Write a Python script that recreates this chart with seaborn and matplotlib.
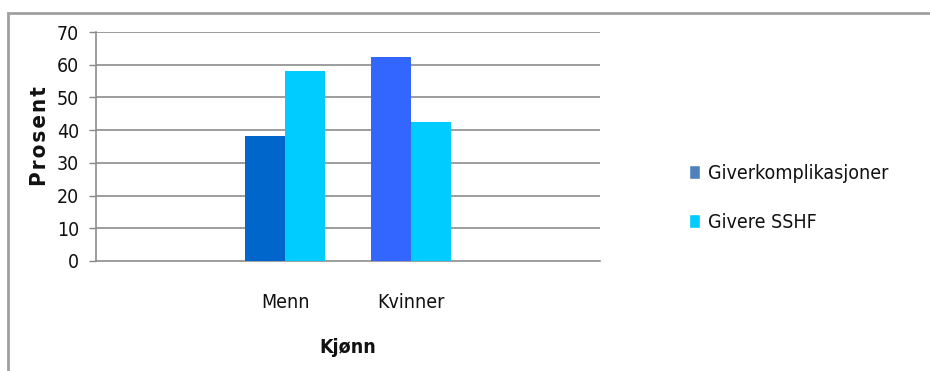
import matplotlib
matplotlib.use("Agg")
import matplotlib.pyplot as plt
from matplotlib.patches import Rectangle, Patch
import seaborn as sns
import pandas as pd

# Data
categories = ["", "Menn", "Kvinner", " "]
series = ["Giverkomplikasjoner", "Givere SSHF"]
giverkomplikasjoner = [38.2, 62.4]
givere_sshf = [58.1, 42.5]
data_categories = ["Menn", "Kvinner"]
yticks = [0, 10, 20, 30, 40, 50, 60, 70]

df = pd.DataFrame({
    "Kjønn": data_categories * 2,
    "Serie": [series[0]] * 2 + [series[1]] * 2,
    "Prosent": giverkomplikasjoner + givere_sshf,
})

sns.set_theme(style="white")
plt.rcParams["font.family"] = ["DejaVu Sans"]
plt.rcParams["font.stretch"] = "condensed"

W, H = 930, 371
fig = plt.figure(figsize=(W / 100, H / 100), dpi=100)
ax = fig.add_axes([96 / W, 1 - 261 / H, (600 - 96) / W, (261 - 32) / H])

bar_colors = {series[0]: "#0066CC", series[1]: "#00CCFF"}
sns.barplot(data=df, x="Kjønn", y="Prosent", hue="Serie", order=categories,
            hue_order=series, palette=bar_colors, width=0.635, saturation=1,
            ax=ax, legend=False, linewidth=0, zorder=3)

# first series uses a different shade per category
first = ax.containers[0]
for patch, c in zip(first.patches, ["#0066CC", "#3366FF"]):
    patch.set_facecolor(c)

ax.set_ylim(0, 70)
ax.set_xlim(-0.5, 3.5)
ax.set_yticks(yticks)
ax.set_yticklabels([str(v) for v in yticks], fontsize=14, color="#111111")
ax.set_xticks(range(len(categories)))
ax.set_xticklabels(categories, fontsize=14, color="#111111")
ax.tick_params(axis="x", length=0, pad=23)
ax.tick_params(axis="y", length=5, width=1, color="#888888", pad=7, left=True)

for v in yticks[1:]:
    ax.axhline(v, color="#8c8c8c", lw=1.2, zorder=1)

for s in ["top", "right"]:
    ax.spines[s].set_visible(False)
for s in ["left", "bottom"]:
    ax.spines[s].set_color("#8c8c8c")
    ax.spines[s].set_linewidth(1.2)

ax.set_xlabel("Kjønn", fontsize=14, fontweight="bold", labelpad=19, color="#111111")
ax.set_ylabel("P\u200ar\u200ao\u200as\u200ae\u200an\u200at", fontsize=16, fontweight="bold",
              color="#111111")
ax.yaxis.set_label_coords((50 - 96) / 504, (261 - 136.5) / 229)
ax.grid(False)

handles = [Patch(facecolor="#4F81BD", label=series[0]),
           Patch(facecolor="#00CCFF", label=series[1])]
fig.legend(handles=handles, loc="upper left", bbox_to_anchor=(671 / W, 1 - 146 / H),
           frameon=False, fontsize=14, handlelength=0.6, handleheight=0.7,
           handletextpad=0.4, labelspacing=1.55, labelcolor="#111111")

# chart-area frame
fig.patches.append(Rectangle((8 / W, -0.1), 1.2, 1 - 13 / H + 0.1,
                             transform=fig.transFigure, fill=False,
                             edgecolor="#a0a0a0", lw=2))

fig.savefig("out.png", dpi=100, facecolor="white")
